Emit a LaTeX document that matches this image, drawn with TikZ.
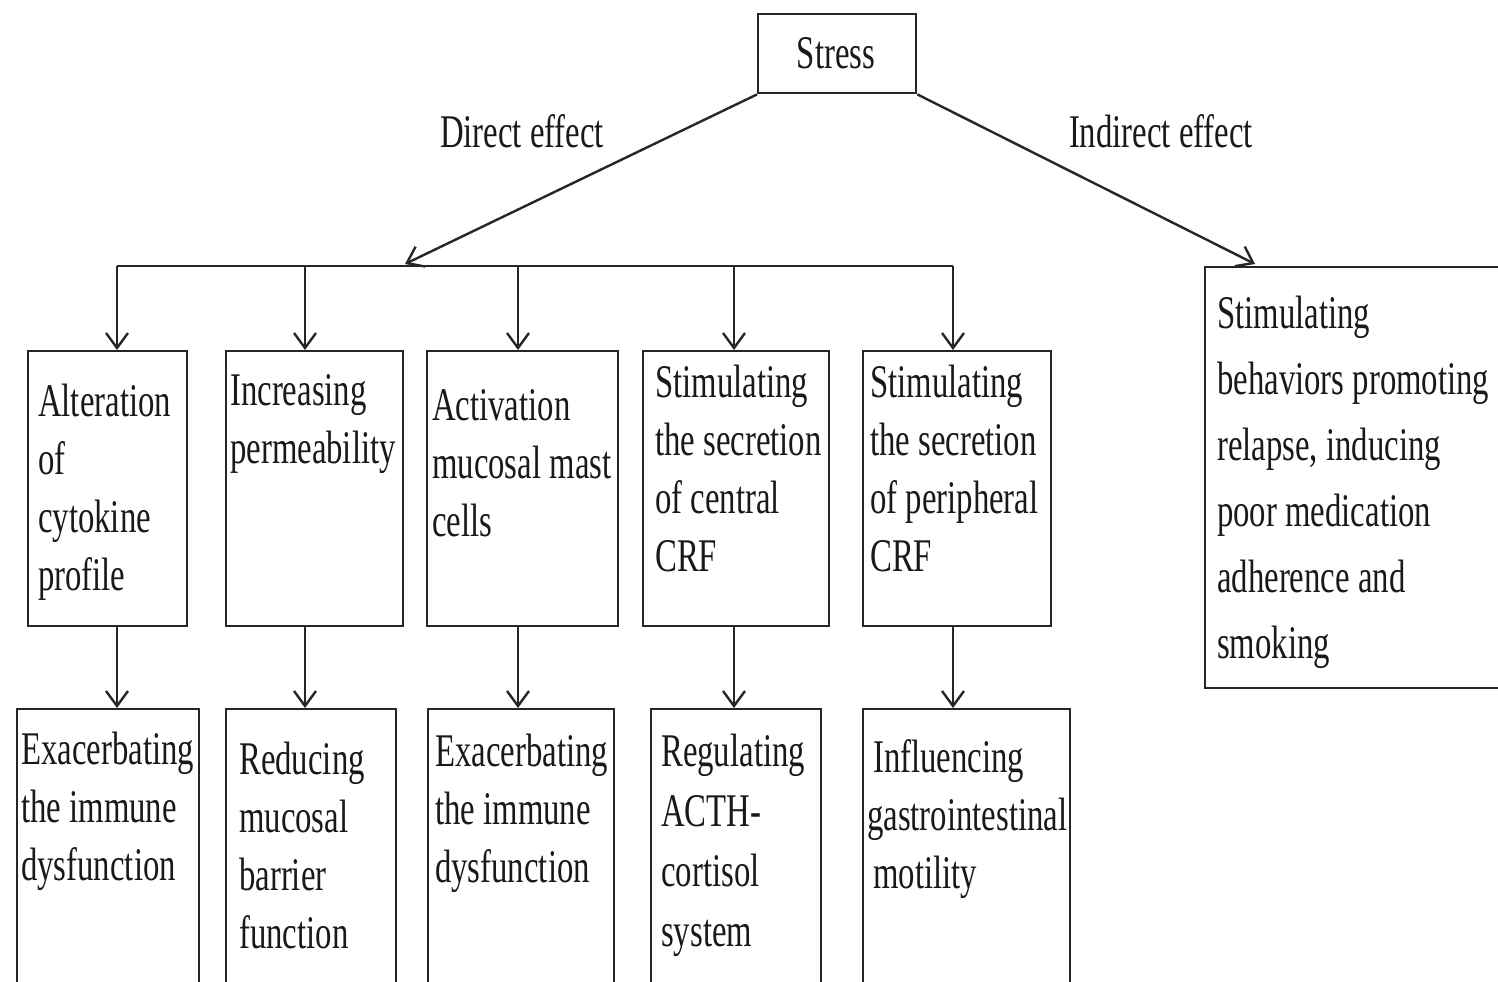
\documentclass[tikz,border=0pt]{standalone}
\usepackage{fontspec}
\setmainfont{Liberation Serif}[FakeStretch=0.7]
\usetikzlibrary{arrows.meta}
\begin{document}
\begin{tikzpicture}[x=0.5pt,y=-0.5pt,
  line width=1.2pt, draw=black!85,
  box/.style={draw=black!85, line width=1.2pt, inner sep=0pt, anchor=north west},
  txt/.style={inner sep=0pt, anchor=north west, align=left, text=black!90,
    font=\fontsize{23.4pt}{29pt}\selectfont},
  lbl/.style={inner sep=0pt, anchor=base, text=black!90, font=\fontsize{23.4pt}{29pt}\selectfont},
  arr/.style={-{Straight Barb[length=7.5pt,width=11pt]}, line width=1.2pt}]
\clip (0,0) rectangle (1498,981);
% top
\node[box, minimum width=79pt, minimum height=39.5pt] (stress) at (757,13) {};
\node[lbl] (stresst) at (836,68) {Stress};
\node[lbl] (direct) at (522,147) {Direct effect};
\node[lbl] (indirect) at (1161,147) {Indirect effect};
% row 1 boxes
\node[box, minimum width=79.5pt, minimum height=137.5pt] (b1) at (27,350) {};
\node[box, minimum width=88.5pt, minimum height=137.5pt] (b2) at (225,350) {};
\node[box, minimum width=95.5pt, minimum height=137.5pt] (b3) at (426,350) {};
\node[box, minimum width=93pt, minimum height=137.5pt] (b4) at (642,350) {};
\node[box, minimum width=94pt, minimum height=137.5pt] (b5) at (862,350) {};
\node[box, minimum width=153pt, minimum height=210.5pt] (r) at (1204,266) {};
% row 2 boxes
\node[box, minimum width=91pt, minimum height=146pt] (c1) at (16,708) {};
\node[box, minimum width=85pt, minimum height=146pt] (c2) at (225,708) {};
\node[box, minimum width=93pt, minimum height=146pt] (c3) at (427,708) {};
\node[box, minimum width=85pt, minimum height=146pt] (c4) at (650,708) {};
\node[box, minimum width=103.5pt, minimum height=146pt] (c5) at (862,708) {};
% texts row 1
\node[txt] (t1) at (37,375) {\strut Alteration\\of\\cytokine\\profile};
\node[txt] (t2) at (229,364) {\strut Increasing\\permeability};
\node[txt] (t3) at (431,379) {\strut Activation\\mucosal mast\\cells};
\node[txt] (t4) at (654,356) {\strut Stimulating\\the secretion\\of central\\CRF};
\node[txt] (t5) at (869,356) {\strut Stimulating\\the secretion\\of peripheral\\CRF};
\node[txt, font=\fontsize{23.4pt}{33pt}\selectfont] (tr) at (1216,281) {\strut Stimulating\\behaviors promoting\\relapse, inducing\\poor medication\\adherence and\\smoking};
% texts row 2
\node[txt] (u1) at (20,723) {\strut Exacerbating\\the immune\\dysfunction};
\node[txt] (u2) at (238,733) {\strut Reducing\\mucosal\\barrier\\function};
\node[txt] (u3) at (434,725) {\strut Exacerbating\\the immune\\dysfunction};
\node[txt, font=\fontsize{23.4pt}{30pt}\selectfont] (u4) at (660,723) {\strut Regulating\\ACTH-\\cortisol\\system};
\node[txt] (u5) at (866,731) {\strut \hspace*{3pt}Influencing\\gastrointestinal\\\hspace*{3pt}motility};
% connectors
\coordinate (d1) at (117,266);
\coordinate (d2) at (305,266);
\coordinate (d3) at (518,266);
\coordinate (d4) at (734,266);
\coordinate (d5) at (953,266);
\coordinate (dm) at (405,264);
\coordinate (ri) at (1255,264);
\draw (d1) -- (d5);
\draw[arr] (stress.south west) -- (dm);
\draw[arr] (stress.south east) -- (ri);
\foreach \i in {1,...,5} {
  \draw[arr] (d\i) -- (d\i |- b\i.north);
  \draw[arr] (d\i |- b\i.south) -- (d\i |- c\i.north);
}
\end{tikzpicture}
\end{document}
